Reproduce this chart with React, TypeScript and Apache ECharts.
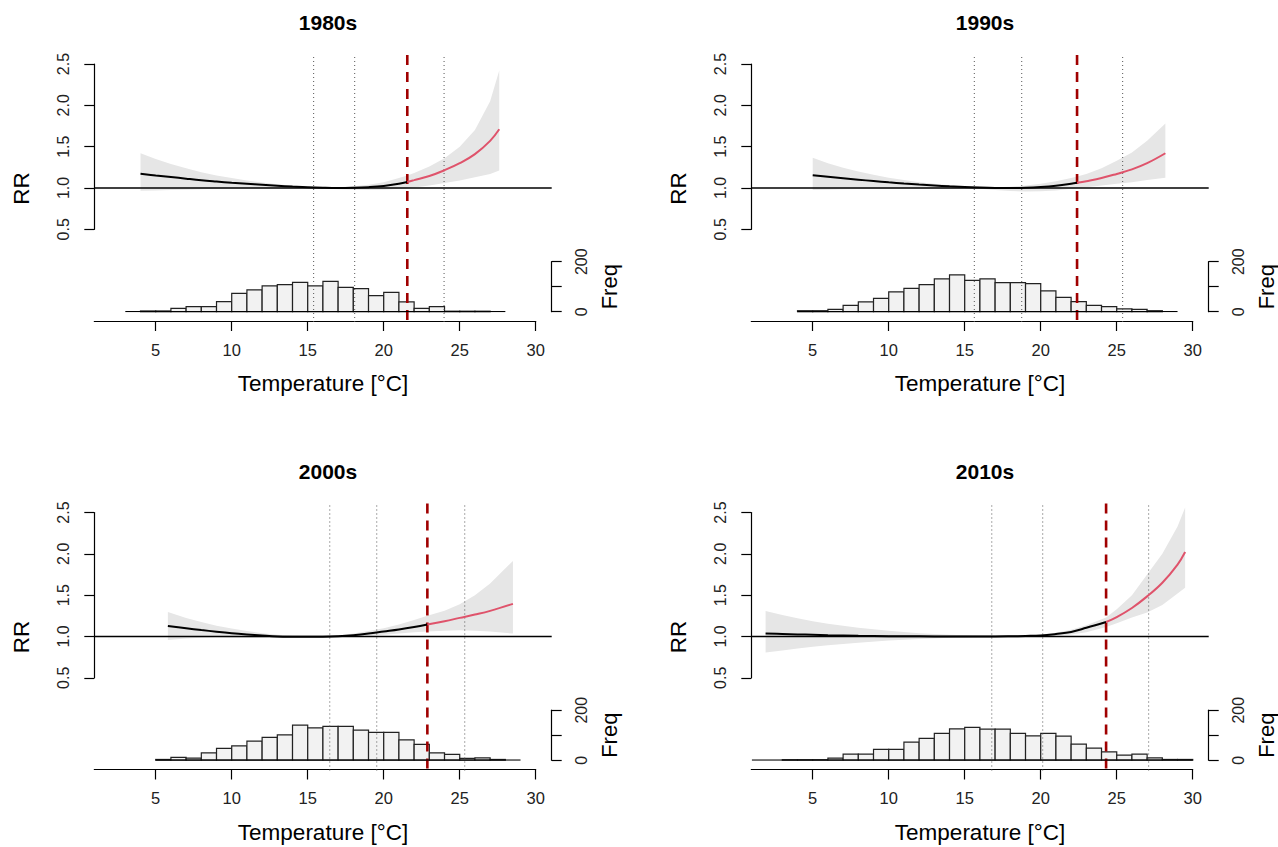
import React, { useEffect, useRef } from "react";
import * as echarts from "echarts";

// ---------------- data ----------------
const decades = ["1980s", "1990s", "2000s", "2010s"];

const temps1980 = [4, 5, 6, 7, 8, 9, 10, 11, 12, 13, 14, 15, 16, 17, 18, 19, 20, 21, 21.55, 22, 23, 24, 25, 26, 27, 27.6];
const rr1980 = [1.172, 1.152, 1.133, 1.113, 1.094, 1.078, 1.063, 1.05, 1.038, 1.027, 1.017, 1.008, 1.002, 0.999, 1.002, 1.01, 1.025, 1.052, 1.073, 1.095, 1.145, 1.215, 1.3, 1.41, 1.57, 1.71];
const hi1980 = [1.42, 1.35, 1.29, 1.24, 1.19, 1.15, 1.12, 1.09, 1.065, 1.045, 1.028, 1.013, 1.005, 1.008, 1.02, 1.04, 1.07, 1.12, 1.15, 1.18, 1.26, 1.36, 1.5, 1.7, 2.05, 2.42];
const lo1980 = [0.965, 0.97, 0.975, 0.98, 0.985, 0.99, 0.993, 0.995, 0.997, 0.998, 0.998, 0.998, 0.995, 0.985, 0.978, 0.975, 0.98, 0.99, 0.998, 1.005, 1.03, 1.06, 1.09, 1.13, 1.17, 1.21];

const temps1990 = [5, 6, 7, 8, 9, 10, 11, 12, 13, 14, 15, 16, 17, 18, 19, 20, 21, 22, 22.39, 23, 24, 25, 26, 27, 28.2];
const rr1990 = [1.154, 1.135, 1.117, 1.1, 1.084, 1.068, 1.054, 1.041, 1.03, 1.02, 1.011, 1.005, 1.001, 1.0, 1.003, 1.012, 1.027, 1.05, 1.062, 1.082, 1.12, 1.17, 1.225, 1.3, 1.42];
const hi1990 = [1.366, 1.3, 1.245, 1.2, 1.16, 1.125, 1.095, 1.07, 1.05, 1.032, 1.017, 1.008, 1.008, 1.015, 1.03, 1.05, 1.08, 1.12, 1.14, 1.17, 1.24, 1.33, 1.43, 1.57, 1.78];
const lo1990 = [0.976, 0.98, 0.984, 0.988, 0.99, 0.992, 0.994, 0.995, 0.996, 0.996, 0.996, 0.99, 0.975, 0.962, 0.957, 0.96, 0.97, 0.99, 0.997, 1.01, 1.03, 1.05, 1.07, 1.095, 1.125];

const temps2000 = [5.8, 7, 8, 9, 10, 11, 12, 13, 14, 15, 16, 17, 18, 19, 20, 21, 22, 22.87, 24, 25, 26, 27, 28.5];
const rr2000 = [1.127, 1.1, 1.078, 1.058, 1.04, 1.025, 1.012, 1.001, 0.997, 0.996, 0.998, 1.004, 1.016, 1.035, 1.06, 1.085, 1.115, 1.145, 1.185, 1.225, 1.265, 1.31, 1.395];
const hi2000 = [1.297, 1.225, 1.175, 1.13, 1.095, 1.065, 1.04, 1.022, 1.01, 1.004, 1.001, 1.012, 1.035, 1.065, 1.1, 1.145, 1.2, 1.25, 1.31, 1.39, 1.5, 1.64, 1.914];
const lo2000 = [0.958, 0.975, 0.985, 0.99, 0.985, 0.982, 0.982, 0.985, 0.988, 0.992, 0.998, 0.998, 1.0, 1.008, 1.02, 1.035, 1.05, 1.06, 1.07, 1.075, 1.07, 1.06, 1.035];

const temps2010 = [1.9, 3, 4, 5, 6, 8, 10, 12, 14, 16, 17, 18, 19, 20, 21, 22, 23, 24.3, 25, 26, 27, 28, 29, 29.5];
const rr2010 = [1.035, 1.03, 1.025, 1.02, 1.015, 1.008, 1.004, 1.002, 1.0, 1.0, 1.0, 1.002, 1.006, 1.012, 1.03, 1.055, 1.105, 1.175, 1.235, 1.345, 1.485, 1.65, 1.87, 2.022];
const hi2010 = [1.309, 1.26, 1.22, 1.185, 1.155, 1.105, 1.07, 1.04, 1.02, 1.008, 1.006, 1.008, 1.015, 1.025, 1.045, 1.08, 1.135, 1.23, 1.33, 1.5, 1.75, 2.0, 2.33, 2.56];
const lo2010 = [0.805, 0.83, 0.855, 0.875, 0.895, 0.925, 0.95, 0.97, 0.985, 0.995, 0.996, 0.996, 0.997, 1.0, 1.008, 1.025, 1.05, 1.115, 1.16, 1.23, 1.29, 1.38, 1.52, 1.59];

const thresholds = [21.55, 22.39, 22.87, 24.3];
const dotted1980 = [15.39, 18.09, 23.97];
const dotted1990 = [15.63, 18.75, 25.39];
const dotted2000 = [16.45, 19.54, 25.33];
const dotted2010 = [16.78, 20.13, 27.1];

// histogram: first bin start, counts per 1 °C bin, baseline extent
const histStart1980 = 4;
const histCounts1980 = [3, 3, 13, 20, 20, 40, 73, 87, 103, 108, 117, 103, 121, 97, 92, 64, 77, 39, 13, 20, 2, 2, 2];
const histBase1980 = [3, 28];
const histStart1990 = 4;
const histCounts1990 = [4, 4, 9, 25, 39, 53, 79, 93, 108, 131, 147, 125, 131, 116, 116, 112, 83, 57, 40, 25, 20, 11, 9, 4];
const histBase1990 = [4, 29];
const histStart2000 = 5;
const histCounts2000 = [3, 11, 8, 29, 47, 57, 76, 91, 101, 140, 129, 135, 135, 120, 111, 111, 81, 63, 29, 23, 7, 9, 3];
const histBase2000 = [5, 29];
const histStart2010 = 3;
const histCounts2010 = [2, 2, 2, 8, 24, 24, 43, 43, 72, 87, 107, 125, 131, 124, 124, 107, 97, 107, 96, 64, 48, 33, 20, 24, 9, 3, 3];
const histBase2010 = [1, 30];

const xTickValues = [5, 10, 15, 20, 25, 30];

const panels = [
  { temps: temps1980, rr: rr1980, hi: hi1980, lo: lo1980, dotted: dotted1980, hStart: histStart1980, hCounts: histCounts1980, hBase: histBase1980 },
  { temps: temps1990, rr: rr1990, hi: hi1990, lo: lo1990, dotted: dotted1990, hStart: histStart1990, hCounts: histCounts1990, hBase: histBase1990 },
  { temps: temps2000, rr: rr2000, hi: hi2000, lo: lo2000, dotted: dotted2000, hStart: histStart2000, hCounts: histCounts2000, hBase: histBase2000 },
  { temps: temps2010, rr: rr2010, hi: hi2010, lo: lo2010, dotted: dotted2010, hStart: histStart2010, hCounts: histCounts2010, hBase: histBase2010 },
];

// ---------------- layout ----------------
const FONT = "'Liberation Sans', Arial, Helvetica, sans-serif";
const OFFSETS = [[0, 0], [657, 0], [0, 448.5], [657, 448.5]];
const X_MIN = 0.96;
const X_MAX = 31.05;
const PLOT_LEFT = 94.3;
const PLOT_W = 457.4;

function buildOption() {
  const grid: any[] = [];
  const xAxis: any[] = [];
  const yAxis: any[] = [];
  const series: any[] = [];
  const title: any[] = [];
  const hiddenX = { type: "value", min: X_MIN, max: X_MAX, axisLine: { show: false }, axisTick: { show: false }, axisLabel: { show: false }, splitLine: { show: false } };

  panels.forEach((p, i) => {
    const [dx, dy] = OFFSETS[i];
    const g = grid.length;
    const thr = thresholds[i];

    title.push({
      text: decades[i], left: 323 + dx, top: 7 + dy, textAlign: "center",
      textStyle: { fontSize: 21, fontWeight: "bold", fontFamily: FONT, color: "#000" },
    });

    // full plot grid (verticals, axis titles)
    grid.push({ left: PLOT_LEFT + dx, top: 55 + dy, width: PLOT_W, height: 267, outerBoundsMode: "none" });
    xAxis.push({ ...hiddenX, gridIndex: g, name: "Temperature [°C]", nameLocation: "middle", nameGap: 50,
      nameTextStyle: { fontSize: 22.5, fontFamily: FONT, color: "#000" } });
    yAxis.push({ type: "value", gridIndex: g, min: 0, max: 1, axisLine: { show: false }, axisTick: { show: false }, axisLabel: { show: false }, splitLine: { show: false },
      name: "RR", nameLocation: "middle", nameRotate: 90, nameGap: 61, nameTextStyle: { fontSize: 22.5, fontFamily: FONT, color: "#000" } });

    // RR grid
    grid.push({ left: PLOT_LEFT + dx, top: 64 + dy, width: PLOT_W, height: 165.3, outerBoundsMode: "none" });
    xAxis.push({ ...hiddenX, gridIndex: g + 1 });
    yAxis.push({ type: "value", gridIndex: g + 1, min: 0.5, max: 2.5, interval: 0.5,
      axisLine: { show: true, lineStyle: { color: "#000", width: 1.2 } },
      axisTick: { show: true, length: 10, lineStyle: { color: "#000", width: 1.2 } },
      axisLabel: { rotate: 90, fontSize: 16, margin: 23, fontFamily: FONT, color: "#222", formatter: (v: number) => v.toFixed(1) },
      splitLine: { show: false } });

    // histogram grid
    grid.push({ left: PLOT_LEFT + dx, top: 261.7 + dy, width: PLOT_W, height: 50, outerBoundsMode: "none" });
    xAxis.push({ ...hiddenX, gridIndex: g + 2 });
    yAxis.push({ type: "value", gridIndex: g + 2, position: "right", min: 0, max: 200, interval: 100,
      axisLine: { show: true, lineStyle: { color: "#000", width: 1.2 } },
      axisTick: { show: true, length: 10, lineStyle: { color: "#000", width: 1.2 } },
      axisLabel: { rotate: 90, fontSize: 16, margin: 22, fontFamily: FONT, color: "#222", formatter: (v: number) => (v === 100 ? "" : String(v)) },
      splitLine: { show: false },
      name: "Freq", nameLocation: "middle", nameRotate: 90, nameGap: 47, nameTextStyle: { fontSize: 22, fontFamily: FONT, color: "#000" } });

    // temperature axis grid
    grid.push({ left: PLOT_LEFT + dx, top: 300 + dy, width: 441.4, height: 21, outerBoundsMode: "none" });
    xAxis.push({ type: "value", gridIndex: g + 3, min: X_MIN, max: 30,
      axisLine: { show: true, lineStyle: { color: "#000", width: 1.2 } },
      axisTick: { show: true, length: 10, customValues: xTickValues, lineStyle: { color: "#000", width: 1.2 } },
      axisLabel: { fontSize: 16.5, margin: 20, fontFamily: FONT, color: "#222", customValues: xTickValues },
      splitLine: { show: false } });
    yAxis.push({ type: "value", gridIndex: g + 3, show: false, min: 0, max: 1, splitLine: { show: false } });

    // confidence band
    series.push({
      type: "custom", xAxisIndex: g + 1, yAxisIndex: g + 1, silent: true, clip: false,
      data: [[p.temps[0], p.rr[0]]],
      renderItem: (_params: any, api: any) => {
        const up = p.temps.map((t, k) => api.coord([t, p.hi[k]]));
        const dn = p.temps.map((t, k) => api.coord([t, p.lo[k]])).reverse();
        return { type: "polygon", shape: { points: up.concat(dn) }, style: { fill: "#E6E6E6" } };
      },
    });
    // reference line RR = 1
    series.push({ type: "line", xAxisIndex: g + 1, yAxisIndex: g + 1, silent: true, symbol: "none",
      data: [[X_MIN, 1], [X_MAX, 1]], lineStyle: { color: "#000", width: 1.3 } });
    // curve below threshold (black) and above (red)
    const below: number[][] = [];
    const above: number[][] = [];
    p.temps.forEach((t, k) => {
      if (t <= thr) below.push([t, p.rr[k]]);
      if (t >= thr) above.push([t, p.rr[k]]);
    });
    series.push({ type: "line", xAxisIndex: g + 1, yAxisIndex: g + 1, silent: true, symbol: "none", smooth: 0.4,
      data: below, lineStyle: { color: "#000", width: 2 } });
    series.push({ type: "line", xAxisIndex: g + 1, yAxisIndex: g + 1, silent: true, symbol: "none", smooth: 0.4,
      data: above, lineStyle: { color: "#DF536B", width: 2 } });

    // histogram baseline and bars
    series.push({ type: "line", xAxisIndex: g + 2, yAxisIndex: g + 2, silent: true, symbol: "none",
      data: [[p.hBase[0], 0], [p.hBase[1], 0]], lineStyle: { color: "#000", width: 1.3 } });
    series.push({
      type: "custom", xAxisIndex: g + 2, yAxisIndex: g + 2, silent: true,
      data: p.hCounts.map((c, k) => [p.hStart + k, p.hStart + k + 1, c]),
      renderItem: (_params: any, api: any) => {
        const a = api.coord([api.value(0), api.value(2)]);
        const b = api.coord([api.value(1), 0]);
        return { type: "rect", shape: { x: a[0], y: a[1], width: b[0] - a[0], height: b[1] - a[1] },
          style: { fill: "#F2F2F2", stroke: "#222", lineWidth: 1.2 } };
      },
    });

    // vertical dotted percentile lines
    series.push({
      type: "custom", xAxisIndex: g, yAxisIndex: g, silent: true,
      data: p.dotted.map((v) => [v, 0]),
      renderItem: (_params: any, api: any) => {
        const a = api.coord([api.value(0), 0]);
        const b = api.coord([api.value(0), 1]);
        return { type: "line", shape: { x1: a[0], y1: a[1], x2: b[0], y2: b[1] },
          style: { stroke: "#555", lineWidth: 1, lineDash: [1, 3] } };
      },
    });
    // threshold dashed line
    series.push({
      type: "custom", xAxisIndex: g, yAxisIndex: g, silent: true,
      data: [[thr, 0]],
      renderItem: (_params: any, api: any) => {
        const a = api.coord([api.value(0), 0]);
        const b = api.coord([api.value(0), 1]);
        return { type: "line", shape: { x1: a[0], y1: b[1], x2: b[0], y2: a[1] },
          style: { stroke: "#A00000", lineWidth: 2.6, lineDash: [10, 7] } };
      },
    });
  });

  return { animation: false, backgroundColor: "#fff", title, grid, xAxis, yAxis, series };
}

export default function App() {
  const ref = useRef<HTMLDivElement>(null);
  useEffect(() => {
    if (!ref.current) return;
    const chart = echarts.init(ref.current, undefined, { renderer: "svg" });
    chart.setOption(buildOption() as any);
    return () => chart.dispose();
  }, []);
  return <div ref={ref} style={{ position: "absolute", left: 0, top: 0, width: 1278, height: 847, background: "#fff" }} />;
}
